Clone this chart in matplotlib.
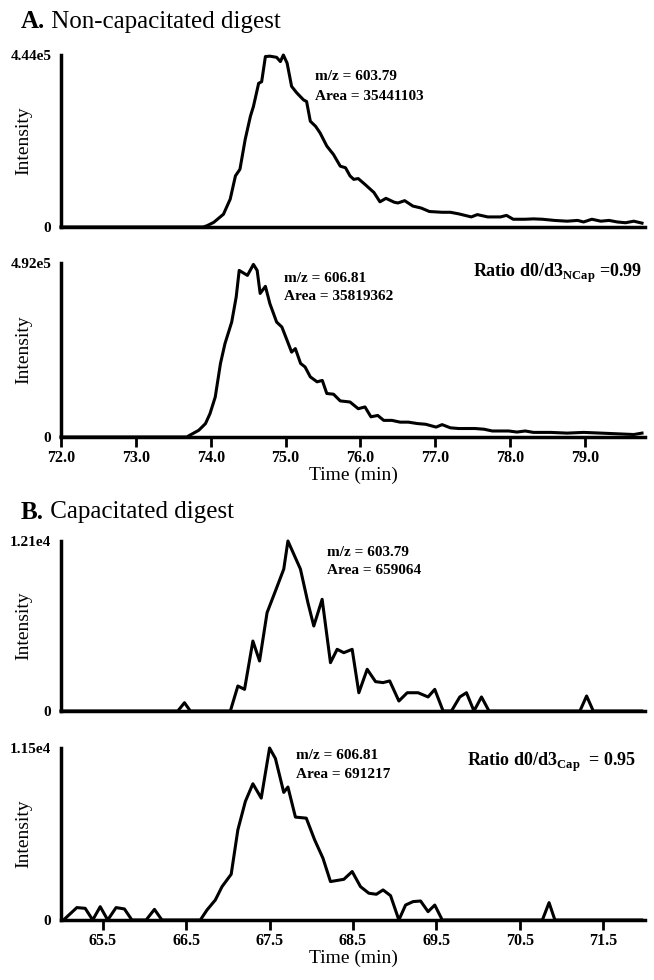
import numpy as np
import matplotlib.pyplot as plt

plt.rcParams['font.family'] = ['Liberation Serif', 'DejaVu Serif']
plt.rcParams['mathtext.fontset'] = 'custom'
plt.rcParams['mathtext.rm'] = 'Liberation Serif'
plt.rcParams['mathtext.bf'] = 'Liberation Serif:bold'

# A. non-capacitated digest, m/z 603.79 (d0)
nc_d0_time = [72.0, 73.90, 73.95, 74.04, 74.17, 74.26, 74.33, 74.39, 74.46, 74.53, 74.57,
              74.64, 74.68, 74.73, 74.79, 74.88, 74.93, 74.97, 75.02, 75.08, 75.15, 75.24,
              75.28, 75.33, 75.40, 75.46, 75.55, 75.64, 75.73, 75.80, 75.86, 75.91, 75.97,
              76.06, 76.18, 76.26, 76.34, 76.45, 76.50, 76.59, 76.70, 76.81, 76.92, 77.09,
              77.20, 77.31, 77.48, 77.56, 77.70, 77.87, 77.95, 78.04, 78.20, 78.31, 78.43,
              78.59, 78.76, 78.90, 78.98, 79.09, 79.21, 79.32, 79.43, 79.54, 79.65, 79.76]
nc_d0_int = [0, 0, 3.3, 12, 33, 72, 132, 149, 226, 286, 311,
             371, 375, 440, 441, 438, 427, 444, 423, 363, 346, 328,
             324, 273, 260, 243, 209, 187, 157, 153, 132, 123, 125,
             110, 89, 65, 74, 64, 62, 68, 54, 49, 40, 38,
             38, 34, 26, 32, 26, 26, 30, 20, 20, 21, 20,
             17, 15, 17, 13, 20, 15, 17, 13, 11, 15, 10]

# A. non-capacitated digest, m/z 606.81 (d3)
nc_d3_time = [72.0, 73.68, 73.72, 73.84, 73.93, 73.99, 74.06, 74.13, 74.19, 74.28, 74.34,
              74.38, 74.49, 74.57, 74.62, 74.66, 74.73, 74.79, 74.88, 74.95, 75.02, 75.08,
              75.13, 75.20, 75.26, 75.33, 75.42, 75.49, 75.55, 75.64, 75.73, 75.86, 75.97,
              76.06, 76.14, 76.23, 76.31, 76.42, 76.53, 76.64, 76.76, 76.87, 77.01, 77.09,
              77.20, 77.31, 77.53, 77.65, 77.76, 77.98, 78.09, 78.20, 78.31, 78.54, 78.76,
              78.98, 79.21, 79.43, 79.65, 79.76]
nc_d3_int = [0, 0, 5, 19, 38, 66, 113, 208, 264, 325, 396,
             471, 457, 488, 471, 406, 426, 377, 325, 311, 273, 240,
             250, 208, 198, 170, 156, 160, 123, 121, 102, 99, 80,
             85, 57, 61, 47, 47, 42, 42, 38, 36, 28, 35,
             26, 24, 24, 22, 17, 17, 14, 17, 13, 13, 11,
             13, 11, 9, 7, 11]

# B. capacitated digest, m/z 603.79 (d0)
c_d0_time = [65.00, 66.40, 66.48, 66.55, 67.03, 67.12, 67.20, 67.30, 67.38, 67.47, 67.57,
             67.67, 67.72, 67.87, 67.96, 68.03, 68.13, 68.23, 68.31, 68.39, 68.49, 68.57,
             68.67, 68.77, 68.86, 68.94, 69.05, 69.15, 69.28, 69.40, 69.48, 69.58, 69.68,
             69.78, 69.86, 69.95, 70.04, 70.13, 71.22, 71.30, 71.38, 71.96]
c_d0_int = [0, 0, 590, 0, 0, 1780, 1540, 4980, 3560, 7000, 8540,
            10100, 12100, 10100, 7700, 6050, 7950, 3440, 4390, 4150, 4390, 1300,
            2970, 2090, 2020, 2140, 710, 1300, 1300, 1000, 1540, 0, 0,
            1000, 1300, 0, 1000, 0, 0, 1070, 0, 0]

# B. capacitated digest, m/z 606.81 (d3)
c_d3_time = [65.03, 65.19, 65.29, 65.38, 65.47, 65.56, 65.66, 65.76, 65.85, 66.02, 66.12,
             66.21, 66.67, 66.75, 66.85, 66.93, 67.04, 67.12, 67.21, 67.30, 67.40, 67.50,
             67.57, 67.67, 67.72, 67.81, 67.94, 68.04, 68.14, 68.23, 68.39, 68.49, 68.59,
             68.69, 68.78, 68.86, 68.95, 69.05, 69.13, 69.22, 69.31, 69.40, 69.48, 69.57,
             70.77, 70.85, 70.92, 71.96]
c_d3_int = [0, 830, 780, 0, 890, 0, 830, 740, 0, 0, 710,
            0, 0, 670, 1340, 2230, 3060, 6030, 7930, 9110, 8150, 11500,
            10800, 8530, 8890, 6880, 6810, 5360, 4130, 2570, 2720, 3240, 2230,
            1790, 1720, 2010, 1630, 0, 1000, 1230, 1270, 560, 1000, 0,
            0, 1160, 0, 0]

W, H = 654, 980

def px(x, y):
    return x / W, 1 - y / H

def panel(top, bottom, t, y, ymax, ymax_label, xlim, xticks=None, xticklabels=None):
    x0, y0 = px(61, bottom)
    ax = fig.add_axes([x0, y0, (645 - 61) / W, (bottom - top) / H])
    ax.plot(t, y, color='black', lw=2.2, clip_on=False, zorder=3)
    ax.set_xlim(xlim)
    ax.set_ylim(0, ymax)
    for s in ['top', 'right']:
        ax.spines[s].set_visible(False)
    for s in ['left', 'bottom']:
        ax.spines[s].set_linewidth(2.5)
    ax.set_yticks([0, ymax])
    ax.set_yticklabels(['0', ymax_label], fontsize=11, fontweight='bold')
    ax.tick_params(axis='y', length=0, pad=7)
    ax.set_ylabel('Intensity', fontsize=14)
    ax.yaxis.set_label_coords(-0.05, 0.5)
    if xticks is None:
        ax.set_xticks([])
    else:
        ax.set_xticks(xticks)
        ax.set_xticklabels(xticklabels, fontsize=11.5, fontweight='bold')
        ax.tick_params(axis='x', length=7, width=2, pad=2)
        ax.set_xlabel('Time (min)', fontsize=14, labelpad=1)
    return ax

fig = plt.figure(figsize=(W / 100, H / 100), dpi=100)

a_ticks = [72, 73, 74, 75, 76, 77, 78, 79]
b_ticks = [65.5, 66.5, 67.5, 68.5, 69.5, 70.5, 71.5]

panel(55, 227, nc_d0_time, np.array(nc_d0_int) * 1e3, 4.44e5, '4.44e5', (72.0, 79.8))
panel(263, 437, nc_d3_time, np.array(nc_d3_int) * 1e3, 4.92e5, '4.92e5', (72.0, 79.8),
      a_ticks, ['%.1f' % v for v in a_ticks])
panel(541, 711, c_d0_time, c_d0_int, 1.21e4, '1.21e4', (65.0, 72.0))
panel(748, 920, c_d3_time, c_d3_int, 1.15e4, '1.15e4', (65.0, 72.0),
      b_ticks, ['%.1f' % v for v in b_ticks])

# panel titles
for txt_b, txt, y in [('A.', ' Non-capacitated digest', 22), ('B.', ' Capacitated digest', 512)]:
    t1 = fig.text(*px(21, y), txt_b, fontsize=18, fontweight='bold', va='center')
    fig.canvas.draw()
    bb = t1.get_window_extent()
    fig.text(bb.x1 / W, 1 - y / H, txt, fontsize=18, va='center')

# peak annotations
for x, y, mz, area in [(315, 77, '603.79', '35441103'), (284, 278, '606.81', '35819362'),
                       (327, 552, '603.79', '659064'), (296, 755, '606.81', '691217')]:
    fig.text(*px(x, y), 'm/z = ' + mz, fontsize=11, fontweight='bold', va='center')
    fig.text(*px(x, y + 19), 'Area = ' + area, fontsize=11, fontweight='bold', va='center')

fig.text(*px(473, 273), r'Ratio d0/d3$_{\mathbf{NCap}}$ =0.99', fontsize=13,
         fontweight='bold', va='center')
fig.text(*px(467, 762), r'Ratio d0/d3$_{\mathbf{Cap}}$  = 0.95', fontsize=13,
         fontweight='bold', va='center')

plt.savefig('out.png', dpi=100)
